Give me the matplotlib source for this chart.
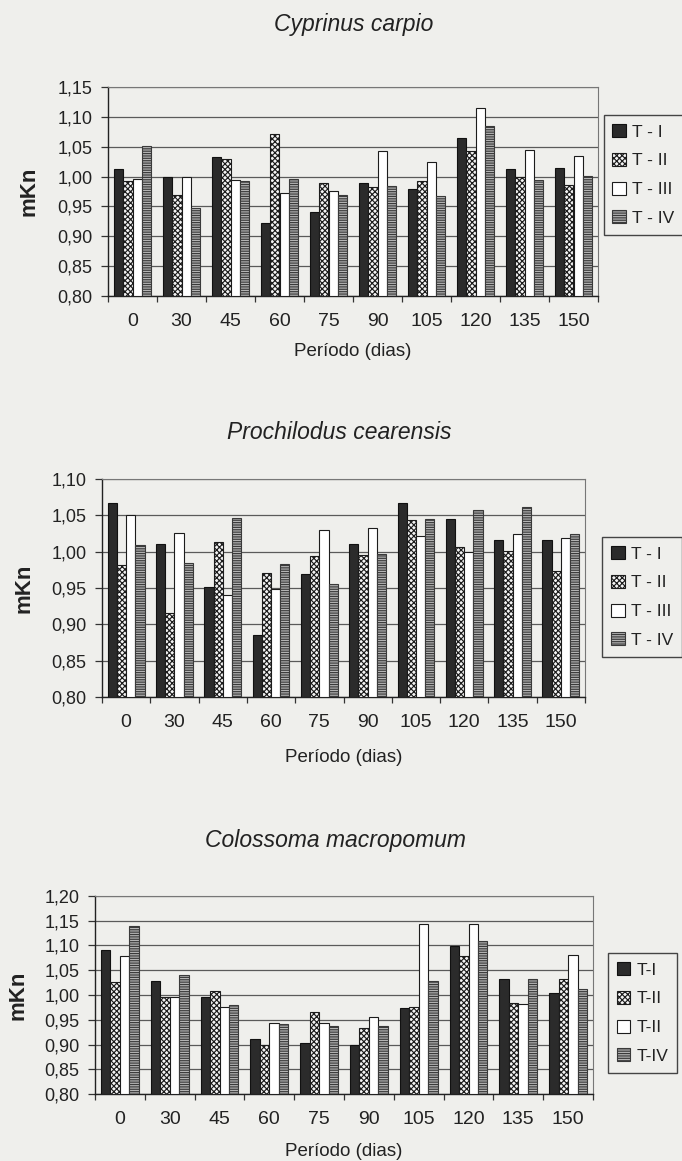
import numpy as np
import matplotlib
matplotlib.use('Agg')
import matplotlib.pyplot as plt
from matplotlib.ticker import FixedLocator, FuncFormatter

plt.rcParams['font.family'] = ['Liberation Sans', 'DejaVu Sans']
plt.rcParams['hatch.linewidth'] = 0.85

# períodos de amostragem
periodos = ['0', '30', '45', '60', '75', '90', '105', '120', '135', '150']

# Cyprinus carpio - mKn por tratamento
carpa_t1 = [1.013, 1.000, 1.033, 0.922, 0.941, 0.989, 0.980, 1.065, 1.012, 1.015]
carpa_t2 = [0.992, 0.969, 1.030, 1.071, 0.990, 0.982, 0.993, 1.042, 1.000, 0.986]
carpa_t3 = [0.996, 1.000, 0.995, 0.973, 0.976, 1.042, 1.024, 1.115, 1.045, 1.034]
carpa_t4 = [1.052, 0.948, 0.993, 0.996, 0.969, 0.985, 0.967, 1.085, 0.995, 1.001]

# Prochilodus cearensis
curimata_t1 = [1.067, 1.011, 0.952, 0.885, 0.969, 1.011, 1.067, 1.045, 1.016, 1.016]
curimata_t2 = [0.981, 0.916, 1.013, 0.970, 0.994, 0.995, 1.043, 1.006, 1.001, 0.973]
curimata_t3 = [1.050, 1.026, 0.941, 0.948, 1.030, 1.033, 1.022, 1.000, 1.024, 1.019]
curimata_t4 = [1.009, 0.984, 1.046, 0.983, 0.955, 0.997, 1.045, 1.058, 1.061, 1.025]

# Colossoma macropomum
tambaqui_t1 = [1.091, 1.029, 0.995, 0.911, 0.903, 0.899, 0.973, 1.098, 1.033, 1.005]
tambaqui_t2 = [1.026, 0.996, 1.009, 0.900, 0.965, 0.934, 0.976, 1.078, 0.983, 1.033]
tambaqui_t3 = [1.079, 0.995, 0.975, 0.944, 0.944, 0.956, 1.144, 1.143, 0.981, 1.081]
tambaqui_t4 = [1.140, 1.041, 0.980, 0.942, 0.938, 0.937, 1.029, 1.110, 1.032, 1.013]

legenda_a = ['T - I', 'T - II', 'T - III', 'T - IV']
legenda_b = ['T-I', 'T-II', 'T-II', 'T-IV']

W, H = 682, 1161
FUNDO = '#efefec'
fig = plt.figure(figsize=(W / 100, H / 100), dpi=100, facecolor=FUNDO)


def caixa(esq, dir, topo, base):
    return [esq / W, 1 - base / H, (dir - esq) / W, (base - topo) / H]


estilos = [
    dict(facecolor='#2b2b2b', edgecolor='#111111', hatch=None),
    dict(facecolor='#f4f4f4', edgecolor='#1c1c1c', hatch='xxxxxx'),
    dict(facecolor='white', edgecolor='#1c1c1c', hatch=None),
    dict(facecolor='#b4b4b4', edgecolor='#3a3a3a', hatch='-------'),
]


def grafico(series, titulo, nomes, pos, ymax, leg, tit_x, tit_y, xl_y, yl_x):
    esq, dir, topo, base = pos
    ax = fig.add_axes(caixa(esq, dir, topo, base))
    ax.set_facecolor('none')
    x = np.arange(len(periodos))
    w = 0.19
    barras = []
    for i, (vals, est) in enumerate(zip(series, estilos)):
        b = ax.bar(x + (i - 1.5) * w, np.array(vals) - 0.80, w, bottom=0.80,
                   facecolor=est['facecolor'], edgecolor=est['edgecolor'],
                   hatch=est['hatch'], linewidth=0.8, zorder=3)
        barras.append(b)
    ax.set_xlim(-0.5, len(periodos) - 0.5)
    ax.set_ylim(0.80, ymax)
    yt = np.round(np.arange(0.80, ymax + 0.001, 0.05), 2)
    ax.set_yticks(yt)
    ax.yaxis.set_major_formatter(FuncFormatter(lambda v, p: f'{v:.2f}'.replace('.', ',')))
    ax.grid(axis='y', color='#5a5a5a', linewidth=0.9, zorder=1)
    ax.set_xticks(x)
    ax.set_xticklabels(periodos)
    ax.xaxis.set_minor_locator(FixedLocator(np.arange(-0.5, len(periodos), 1.0)))
    ax.tick_params(axis='x', which='major', length=0, pad=12, labelsize=14, labelcolor='#222')
    ax.tick_params(axis='x', which='minor', length=4, width=0.9, color='#333', direction='out')
    ax.tick_params(axis='y', length=5, width=0.9, pad=6, labelsize=13, labelcolor='#222', color='#333')
    for s in ['left', 'bottom']:
        ax.spines[s].set_color('#222')
        ax.spines[s].set_linewidth(1.0)
    for s in ['top', 'right']:
        ax.spines[s].set_color('#777')
        ax.spines[s].set_linewidth(0.8)

    fig.text(tit_x / W, 1 - tit_y / H, titulo, style='italic', fontsize=16.5,
             ha='center', va='center', color='#222')
    fig.text((esq + dir) / 2 / W, 1 - xl_y / H, 'Período (dias)', fontsize=13.5,
             ha='center', va='center', color='#222')
    fig.text(yl_x / W, 1 - (topo + base) / 2 / H, 'mKn', fontsize=16, fontweight='bold',
             rotation=90, ha='center', va='center', color='#222')

    lx0, lx1, ly0, ly1 = leg
    fig.legend(barras, nomes, loc='center',
               bbox_to_anchor=((lx0 + lx1) / 2 / W, 1 - (ly0 + ly1) / 2 / H),
               fontsize=12.5, frameon=True, fancybox=False, edgecolor='#444',
               facecolor=FUNDO, framealpha=1, handlelength=0.8, handleheight=0.8,
               handletextpad=0.35, labelspacing=0.75, borderpad=0.5,
               borderaxespad=0, labelcolor='#222')
    return ax


grafico([carpa_t1, carpa_t2, carpa_t3, carpa_t4], 'Cyprinus carpio', legenda_a,
        (108, 598, 87, 296), 1.15, (605, 682, 112, 238), 354, 25, 352, 29)

grafico([curimata_t1, curimata_t2, curimata_t3, curimata_t4], 'Prochilodus cearensis', legenda_a,
        (102, 585, 479, 697), 1.10, (603, 681, 537, 657), 339, 433, 757, 24)

grafico([tambaqui_t1, tambaqui_t2, tambaqui_t3, tambaqui_t4], 'Colossoma macropomum', legenda_b,
        (95, 593, 896, 1094), 1.20, (609, 676, 953, 1073), 335, 840, 1152, 18)

fig.savefig('out.png', dpi=100, facecolor=FUNDO)
